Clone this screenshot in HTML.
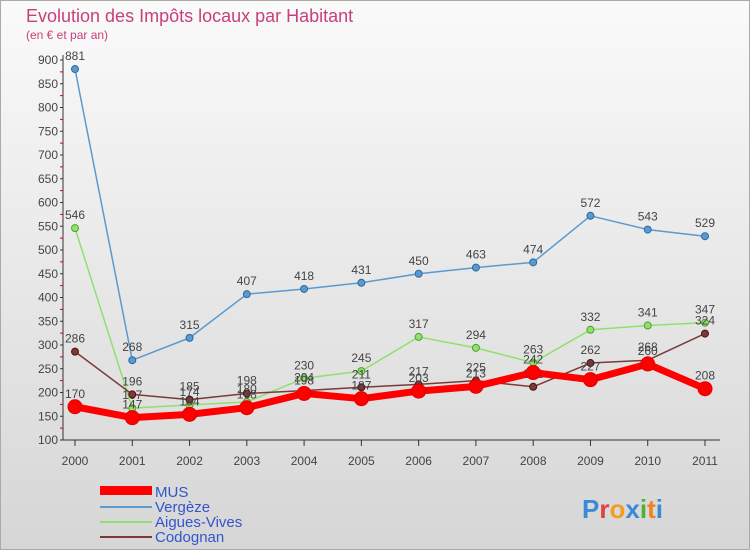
<!DOCTYPE html>
<html><head><meta charset="utf-8"><style>
body{margin:0;width:750px;height:550px;overflow:hidden;font-family:"Liberation Sans",sans-serif}
svg{display:block}
</style></head><body>
<svg id="c" width="750" height="550" viewBox="0 0 750 550">
<defs><linearGradient id="bg" x1="0" y1="0" x2="0" y2="1"><stop offset="0" stop-color="#fafafa"/><stop offset="1" stop-color="#d6d6d6"/></linearGradient></defs>
<rect x="0.5" y="0.5" width="749" height="549" fill="url(#bg)" stroke="#aaa"/>
<text x="26" y="22" font-size="18" fill="#c8407a">Evolution des Impôts locaux par Habitant</text>
<text x="26" y="39" font-size="12" fill="#c8407a">(en € et par an)</text>
<g id="axes"></g><g id="series"></g>
<g>
<rect x="100" y="486" width="52" height="9" fill="#ff0000"/>
<text x="155" y="497" font-size="15" fill="#3355cc">MUS</text>
<line x1="100" y1="507" x2="152" y2="507" stroke="#5a9ad0" stroke-width="2"/>
<text x="155" y="512" font-size="15" fill="#3355cc">Vergèze</text>
<line x1="100" y1="522" x2="152" y2="522" stroke="#90e070" stroke-width="2"/>
<text x="155" y="527" font-size="15" fill="#3355cc">Aigues-Vives</text>
<line x1="100" y1="537" x2="152" y2="537" stroke="#7a3a3a" stroke-width="2"/>
<text x="155" y="542" font-size="15" fill="#3355cc">Codognan</text>
</g>
<text x="582" y="518" font-size="26" font-weight="bold"><tspan fill="#3a8ad8">P</tspan><tspan fill="#e04040">r</tspan><tspan fill="#f0a020">o</tspan><tspan fill="#3a8ad8">x</tspan><tspan fill="#50b030">i</tspan><tspan fill="#f08020">t</tspan><tspan fill="#3a8ad8">i</tspan></text>
</svg>
<script>
const years=["2000","2001","2002","2003","2004","2005","2006","2007","2008","2009","2010","2011"];
const yTicks=[100,150,200,250,300,350,400,450,500,550,600,650,700,750,800,850,900];
const mus=[170,147,154,168,198,187,203,213,242,227,260,208];
const vergeze=[881,268,315,407,418,431,450,463,474,572,543,529];
const aigues=[546,167,174,180,230,245,317,294,263,332,341,347];
const codognan=[286,196,185,198,204,211,217,225,212,262,268,324];
const NS="http://www.w3.org/2000/svg";
const X=i=>75+i*(630/11), Y=v=>440-(v-100)*0.475;
function mk(tag,attrs,parent){const e=document.createElementNS(NS,tag);for(const k in attrs)e.setAttribute(k,attrs[k]);parent.appendChild(e);return e;}
const ax=document.getElementById('axes'), sg=document.getElementById('series');
let l=mk('line',{x1:63,y1:55,x2:63,y2:440,stroke:'#333'},ax);


l=mk('line',{x1:63,y1:440,x2:720,y2:440,stroke:'#333'},ax);


yTicks.forEach(v=>{const t=mk('text',{x:58,y:Y(v)+4,'font-size':12,fill:'#444','text-anchor':'end'},ax);t.textContent=v;


mk('line',{x1:60,y1:Y(v),x2:63,y2:Y(v),stroke:'#333'},ax);
if(v<900)mk('line',{x1:60,y1:Y(v+25),x2:63,y2:Y(v+25),stroke:'#d00'},ax);});
years.forEach((y,i)=>{const t=mk('text',{x:X(i),y:465,'font-size':12,fill:'#444','text-anchor':'middle'},ax);t.textContent=y;


mk('line',{x1:X(i),y1:440,x2:X(i),y2:446,stroke:'#333'},ax);});
function series(name,data,color,w,r,stroke){
const p=mk('polyline',{points:data.map((v,i)=>X(i)+','+Y(v)).join(' '),fill:'none',stroke:color,'stroke-width':w,'stroke-linejoin':'round'},sg);


data.forEach((v,i)=>{const c=mk('circle',{cx:X(i),cy:Y(v),r:r,fill:color,stroke:stroke,'stroke-width':1},sg);


const t=mk('text',{x:X(i),y:Y(v)-9,'font-size':12,fill:'#444','text-anchor':'middle'},sg);t.textContent=v;

});}
series('vergeze',vergeze,'#5a9ad0',1.5,3.5,'#2a6aa0');
series('aigues-vives',aigues,'#90e070',1.5,3.5,'#50a030');
series('codognan',codognan,'#7a3a3a',1.5,3.5,'#501010');
series('mus',mus,'#ff0000',7,7,'#e00000');
</script>
</body></html>
